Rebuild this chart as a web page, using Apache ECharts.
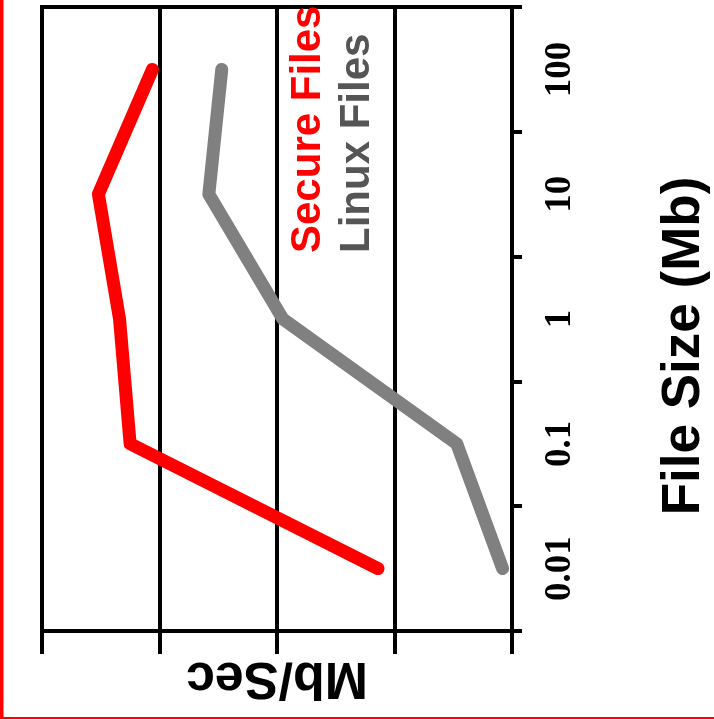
<!DOCTYPE html>
<html>
<head>
<meta charset="utf-8">
<script src="https://cdn.jsdelivr.net/npm/echarts@6/dist/echarts.min.js"></script>
<style>html,body{margin:0;padding:0;background:#fff;}#c{width:714px;height:719px;}</style>
</head>
<body>
<div id="c"></div>
<script>
var fileSizes = ['0.01', '0.1', '1', '10', '100'];
var secureFiles = [1.14, 3.25, 3.34, 3.52, 3.06];
var linuxFiles = [0.08, 0.47, 1.95, 2.58, 2.47];
var seriesNames = ['Secure Files', 'Linux Files'];

function pairs(vals) { return vals.map(function (v, i) { return [v, fileSizes[i]]; }); }

var chart = echarts.init(document.getElementById('c'), null, { renderer: 'canvas' });
chart.setOption({
  animation: false,
  backgroundColor: '#fff',
  grid: { left: 42, right: 202, top: 7, bottom: 88, containLabel: false, outerBoundsMode: 'none',
    show: true, borderColor: '#000', borderWidth: 4, backgroundColor: 'transparent' },
  xAxis: {
    type: 'value', inverse: true, min: 0, max: 4, interval: 1, position: 'bottom',
    axisLine: { show: true, lineStyle: { color: '#000', width: 4 } },
    axisTick: { show: true, length: 23, lineStyle: { color: '#000', width: 4 } },
    axisLabel: { show: false },
    splitLine: { show: true, lineStyle: { color: '#000', width: 4 } },
    name: 'Mb/Sec', nameLocation: 'middle', nameRotate: 180, nameGap: 20,
    nameTextStyle: { fontFamily: 'Liberation Sans', fontWeight: 'bold', fontSize: 52, color: '#000' }
  },
  yAxis: {
    type: 'category', data: fileSizes, position: 'right', boundaryGap: true,
    axisLine: { show: true, lineStyle: { color: '#000', width: 4 } },
    axisTick: { show: true, length: 10, lineStyle: { color: '#000', width: 4 } },
    axisLabel: { rotate: 90, margin: 30, fontFamily: 'Liberation Serif', fontWeight: 'bold', fontSize: 37, color: '#000' },
    splitLine: { show: false },
    name: 'File Size (Mb)', nameLocation: 'middle', nameRotate: 90, nameGap: 146,
    nameTextStyle: { fontFamily: 'Liberation Sans', fontWeight: 'bold', fontSize: 53, color: '#000', padding: [0, 54, 0, 0] }
  },
  series: [
    { name: seriesNames[1], type: 'line', data: pairs(linuxFiles), symbol: 'none',
      lineStyle: { color: '#808080', width: 13, cap: 'round', join: 'round' } },
    { name: seriesNames[0], type: 'line', data: pairs(secureFiles), symbol: 'none',
      lineStyle: { color: '#ff0000', width: 13, cap: 'round', join: 'round' } }
  ],
  graphic: [
    { type: 'rect', shape: { x: 0, y: 0, width: 3.5, height: 719 }, style: { fill: '#ff0000' }, z: 100 },
    { type: 'rect', shape: { x: 0, y: 717, width: 714, height: 2 }, style: { fill: '#ff0000' }, z: 100 },
    { type: 'text', x: 308, y: 253, rotation: Math.PI / 2, z: 100,
      style: { text: seriesNames[0], fill: '#ff0000', font: 'bold 42px "Liberation Sans"', textAlign: 'left', textVerticalAlign: 'middle' } },
    { type: 'text', x: 357, y: 253, rotation: Math.PI / 2, z: 100,
      style: { text: seriesNames[1], fill: '#555555', font: 'bold 42px "Liberation Sans"', textAlign: 'left', textVerticalAlign: 'middle' } }
  ]
});
</script>
</body>
</html>
